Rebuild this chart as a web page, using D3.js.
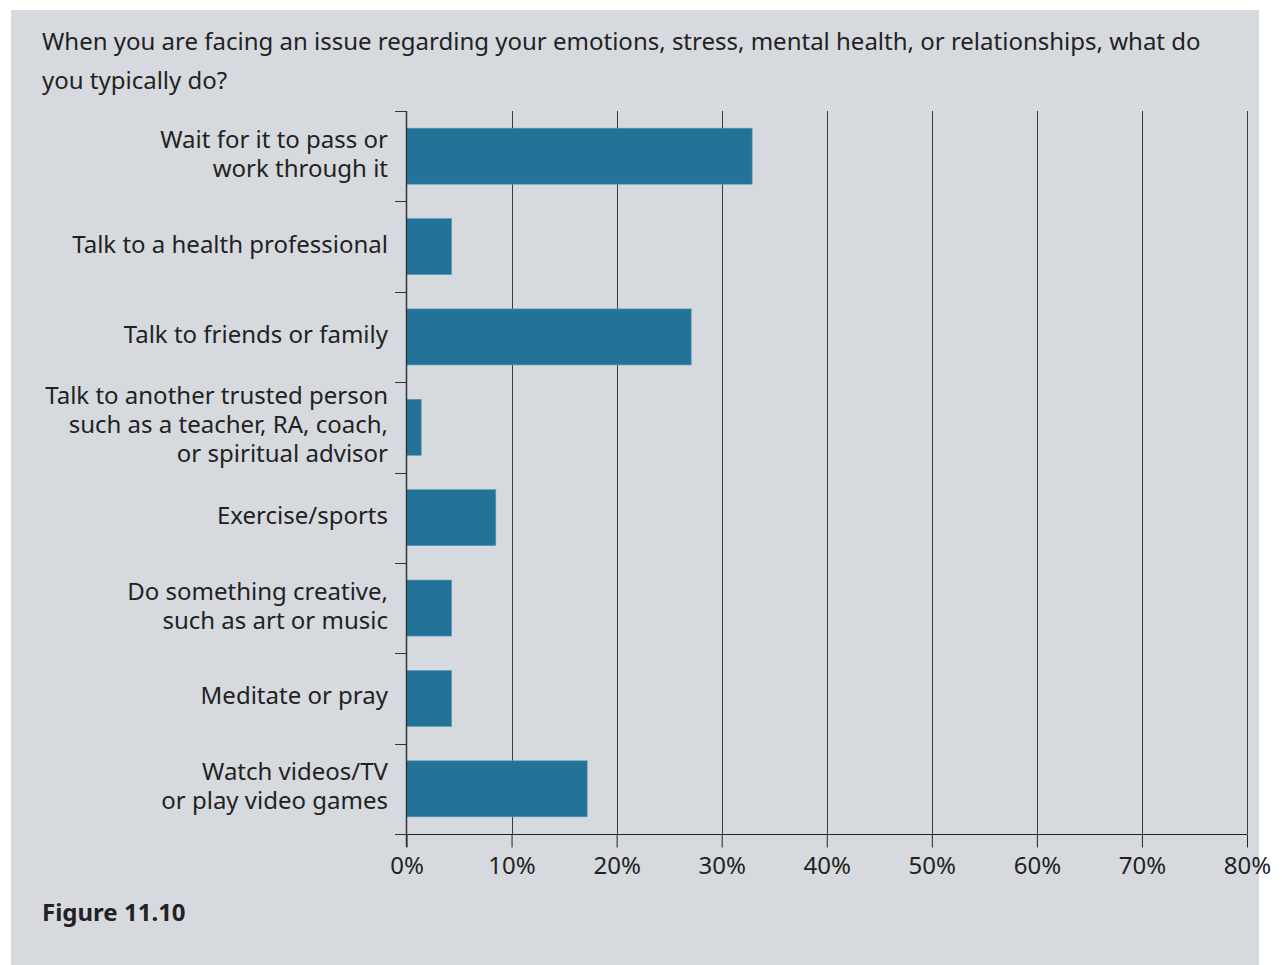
<!DOCTYPE html>
<html><head><meta charset="utf-8">
<script src="https://cdn.jsdelivr.net/npm/d3@7"></script>
<style>
html,body{margin:0;padding:0;background:#fff;}
svg{display:block;}
text{font-family:"Noto Sans","Open Sans",sans-serif;fill:#222;}
</style></head>
<body>
<script>
const titleLines = ["When you are facing an issue regarding your emotions, stress, mental health, or relationships, what do", "you typically do?"];
const categories = [
  ["Wait for it to pass or", "work through it"],
  ["Talk to a health professional"],
  ["Talk to friends or family"],
  ["Talk to another trusted person", "such as a teacher, RA, coach,", "or spiritual advisor"],
  ["Exercise/sports"],
  ["Do something creative,", "such as art or music"],
  ["Meditate or pray"],
  ["Watch videos/TV", "or play video games"]
];
const values = [32.9, 4.3, 27.1, 1.4, 8.5, 4.3, 4.3, 17.2];
const xTicks = [0, 10, 20, 30, 40, 50, 60, 70, 80];
const caption = "Figure 11.10";

(function(){
const W = 1282, H = 965;
const svg = d3.select("body").append("svg").attr("width", W).attr("height", H);
svg.append("rect").attr("x", 11).attr("y", 10).attr("width", 1248).attr("height", 955).attr("fill", "#d6dadf");

svg.append("text").attr("x", 42).attr("y", 50).attr("font-size", 24)
  .selectAll("tspan").data(titleLines).join("tspan")
  .attr("x", 42).attr("dy", (d, i) => i ? 39 : 0).text(d => d);

const pL = 406.5, pR = 1247, pT = 111, pB = 834;
const x = d3.scaleLinear().domain([0, 80]).range([pL, pR]);
const y = d3.scaleBand().domain(d3.range(categories.length)).range([pT, pB]).paddingInner(0.38).paddingOuter(0.19);

// gridlines
svg.append("g").selectAll("line").data(xTicks.slice(1)).join("line")
  .attr("x1", d => Math.round(x(d)) + 0.5).attr("x2", d => Math.round(x(d)) + 0.5)
  .attr("y1", pT).attr("y2", pB)
  .attr("stroke", "#3a3a3a").attr("stroke-width", 1);

// bars
svg.append("g").selectAll("rect").data(values).join("rect")
  .attr("x", x(0)).attr("y", (d, i) => y(i))
  .attr("width", d => x(d) - x(0)).attr("height", y.bandwidth())
  .attr("fill", "#237399").attr("stroke", "#5d9cbd").attr("stroke-width", 0.6);

// x axis
const xAxis = d3.axisBottom(x).tickValues(xTicks).tickFormat(d => d + "%").tickSize(13).tickSizeOuter(0);
const gx = svg.append("g").attr("transform", `translate(0,${pB + 0.5})`).call(xAxis);
gx.select(".domain").remove();
gx.append("line").attr("x1", 396).attr("x2", pR).attr("stroke", "#222");
gx.selectAll(".tick line").attr("stroke", "#222");
gx.selectAll(".tick text").attr("font-size", 24).attr("fill", "#222").attr("dy", 0).attr("y", 39)
  .attr("font-family", '"Noto Sans","Open Sans",sans-serif');

// y axis line and ticks at band boundaries
const bStep = (pB - pT) / categories.length;
const boundaries = d3.range(categories.length + 1).map(i => pT + i * bStep);
svg.append("line").attr("x1", pL).attr("x2", pL).attr("y1", pT).attr("y2", pB + 13).attr("stroke", "#333").attr("stroke-width", 1.5);
svg.append("g").selectAll("line").data(boundaries).join("line")
  .attr("x1", 395).attr("x2", pL).attr("y1", d => Math.round(d) + 0.5).attr("y2", d => Math.round(d) + 0.5)
  .attr("stroke", "#333");

// category labels
const lh = 29;
svg.append("g").selectAll("text").data(categories).join("text")
  .attr("text-anchor", "end").attr("font-size", 24)
  .each(function(lines, i) {
    const cy = y(i) + y.bandwidth() / 2 - 2;
    const y0 = cy - (lines.length - 1) * lh / 2 + 8;
    d3.select(this).selectAll("tspan").data(lines).join("tspan")
      .attr("x", 388).attr("y", (d, j) => y0 + j * lh).text(d => d);
  });

svg.append("text").attr("x", 42).attr("y", 921).attr("font-size", 24).attr("font-weight", "bold").text(caption);
})();
</script>
</body></html>
